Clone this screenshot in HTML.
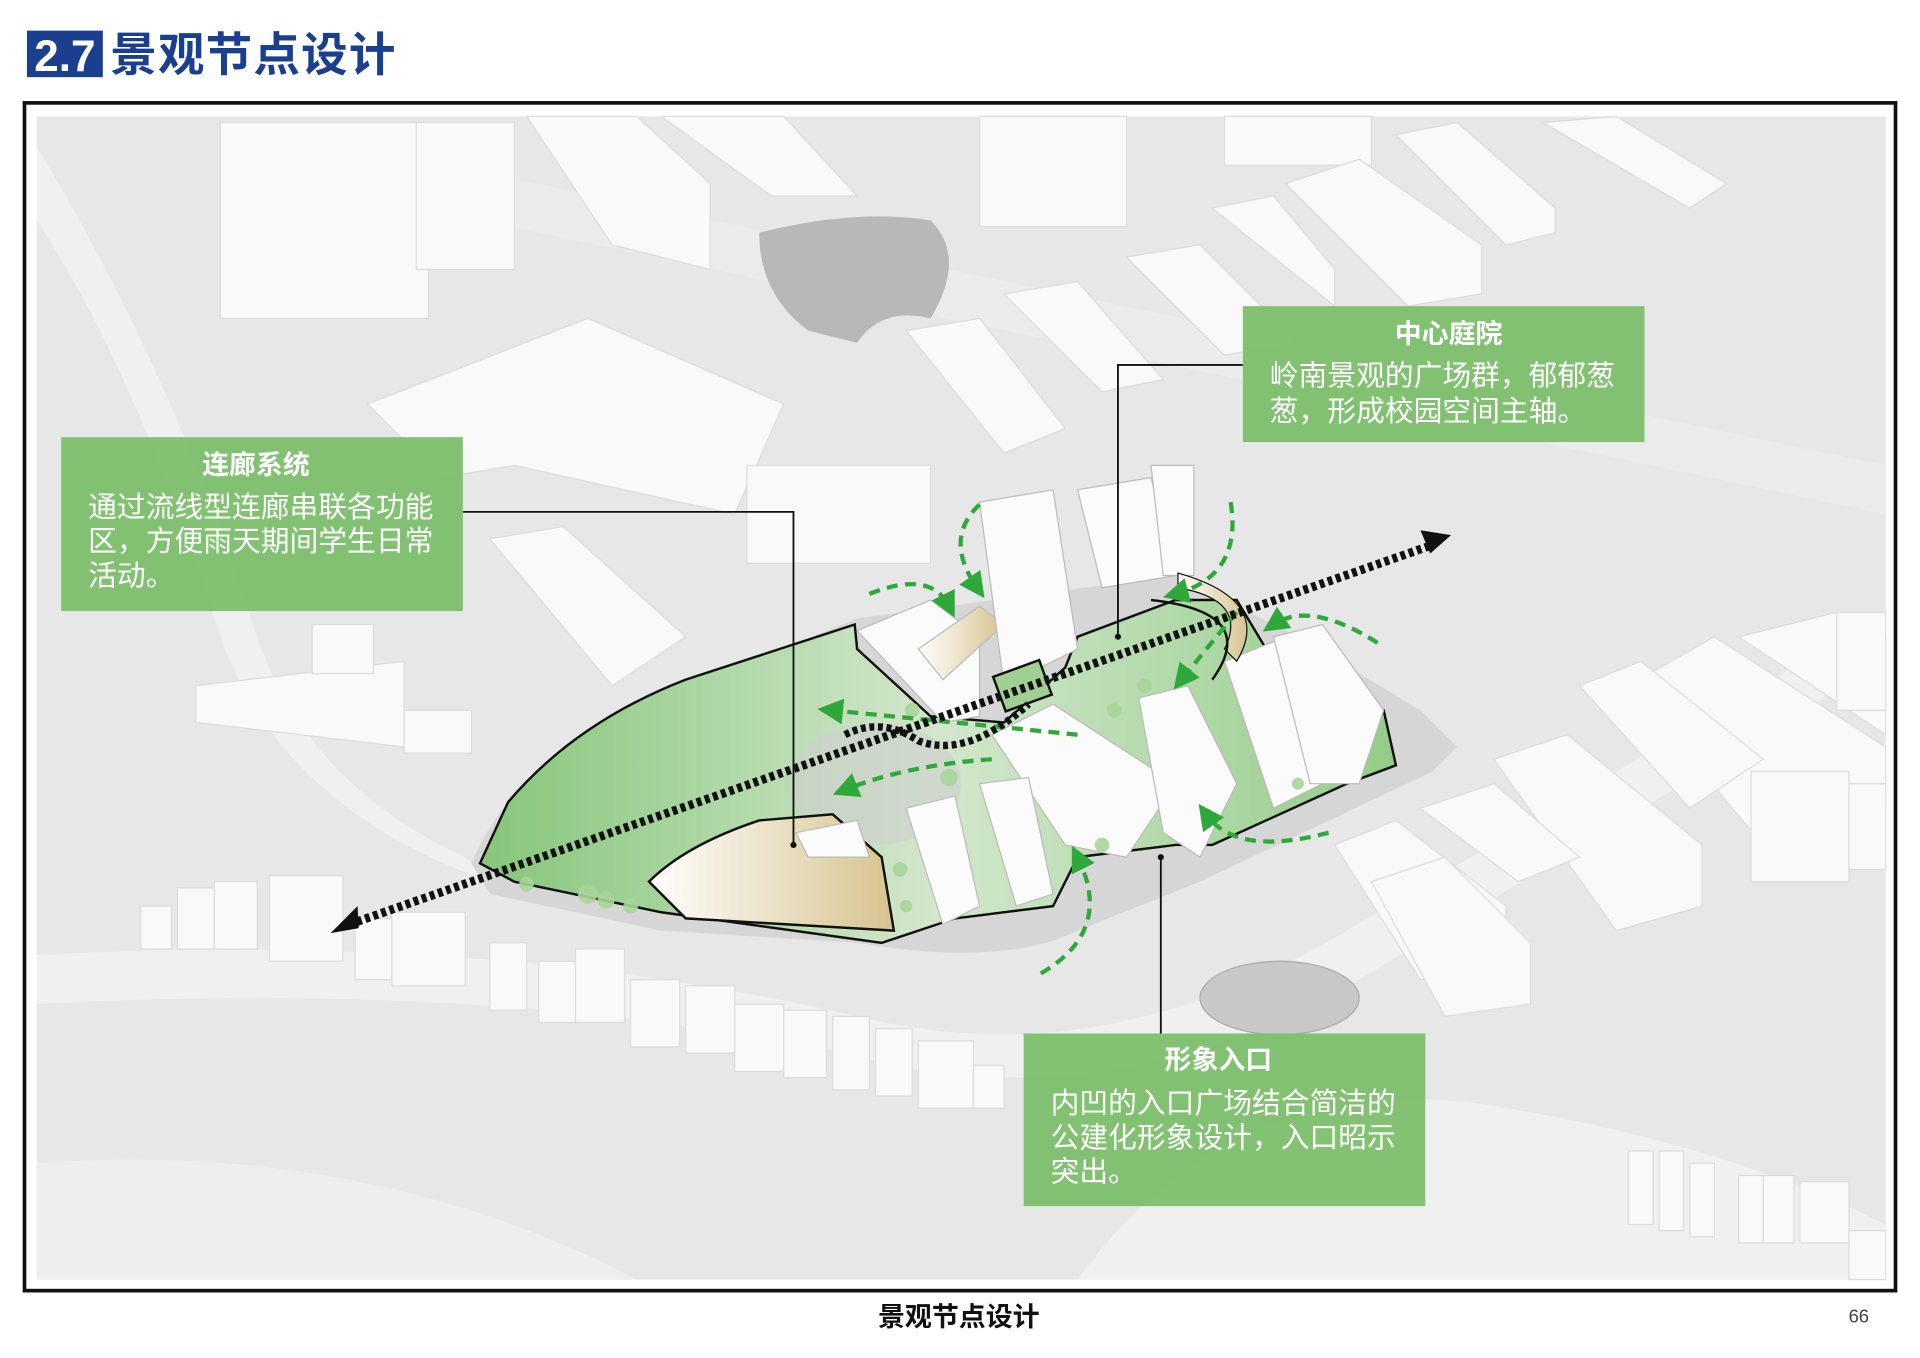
<!DOCTYPE html>
<html><head><meta charset="utf-8"><style>
html,body{margin:0;padding:0;background:#fff;}
svg{display:block;}
text{font-family:"Liberation Sans","Noto Sans CJK SC",sans-serif;}
</style></head><body>
<svg width="1920" height="1358" viewBox="0 0 1568 1109" xmlns="http://www.w3.org/2000/svg">
<defs>
<linearGradient id="gr" x1="0" y1="0" x2="1" y2="0"><stop offset="0" stop-color="#86c67a"/><stop offset="0.5" stop-color="#d3e7cd"/><stop offset="1" stop-color="#93cc88"/></linearGradient>
<linearGradient id="gold" x1="0" y1="0" x2="1" y2="0"><stop offset="0" stop-color="#fff"/><stop offset="1" stop-color="#d6c38f"/></linearGradient>
<marker id="ah" markerWidth="6" markerHeight="6" refX="3" refY="3" orient="auto" markerUnits="strokeWidth"><path d="M0,0 L6,3 L0,6 Z" fill="#2ea83a"/></marker>
</defs>
<rect x="22" y="25" width="62" height="38" fill="#1b3f8f"/>
<text x="53" y="58" font-size="36" font-weight="bold" fill="#fff" text-anchor="middle">2.7</text>
<text x="90" y="58" font-size="38" font-weight="bold" fill="#1b3f8f" letter-spacing="1">景观节点设计</text>
<rect x="20" y="84" width="1528" height="970" fill="#fff" stroke="#111" stroke-width="3"/>
<rect x="30" y="95" width="1510" height="950" fill="#e7e7e7"/>
<path d="M30,780 Q400,760 700,830 Q900,880 1100,760 L1540,500 L1540,540 L1110,800 Q900,920 690,860 Q400,800 30,820 Z" fill="#f0f0f0"/>
<path d="M30,120 Q140,300 210,520 Q250,640 380,700 L400,720 Q230,660 180,520 Q110,300 30,180 Z" fill="#f0f0f0"/>
<path d="M200,100 L1540,380 L1540,420 L200,140 Z" fill="#efefef" opacity="0.6"/>
<path d="M880,1045 Q1000,880 1200,900 Q1400,930 1540,1000 L1540,1045 Z" fill="#f0f0f0"/>
<path d="M30,950 Q300,930 520,1045 L30,1045 Z" fill="#eeeeee"/>
<g fill="#f9f9f9" stroke="#dcdcdc" stroke-width="1">
<rect x="180" y="100" width="170" height="160"/><rect x="340" y="100" width="80" height="120"/>
<polygon points="430,95 520,95 580,150 580,220 500,200"/><polygon points="540,95 640,95 700,160 630,160"/>
<rect x="800" y="95" width="120" height="90"/><rect x="1000" y="95" width="120" height="40"/>
<polygon points="1050,150 1110,130 1210,200 1210,240 1150,250"/><polygon points="990,170 1040,160 1090,220 1090,250"/>
<polygon points="1140,110 1190,100 1270,170 1270,190 1230,200"/><polygon points="1260,100 1320,95 1410,150 1380,170"/>
<polygon points="920,210 980,200 1060,280 1000,290"/><polygon points="820,240 880,230 950,310 900,320"/>
<polygon points="740,270 800,260 870,350 820,370"/><polygon points="300,330 480,260 640,330 600,420 420,380 360,390"/>
<rect x="610" y="380" width="150" height="80"/><polygon points="400,440 460,430 560,520 500,560"/>
<polygon points="160,560 330,540 330,610 160,590"/><rect x="330" y="580" width="55" height="35"/><rect x="255" y="510" width="50" height="40"/>
<polygon points="1330,560 1400,520 1540,610 1540,660 1440,690"/><polygon points="1420,520 1500,500 1540,520 1540,600"/>
<polygon points="1290,560 1340,540 1440,620 1380,660"/><rect x="1500" y="500" width="40" height="80"/>
<polygon points="1220,620 1280,600 1390,690 1390,740 1320,760"/><polygon points="1160,660 1220,640 1290,700 1240,720"/>
<polygon points="1090,690 1140,670 1230,740 1230,790 1160,800"/><polygon points="1120,720 1180,700 1250,770 1250,820 1180,830"/>
<rect x="1430" y="630" width="80" height="90"/><rect x="1510" y="640" width="30" height="70"/>
<rect x="115" y="740" width="25" height="35"/><rect x="145" y="725" width="30" height="50"/><rect x="175" y="720" width="35" height="55"/>
<rect x="220" y="715" width="60" height="70"/><rect x="290" y="750" width="30" height="50"/><rect x="320" y="745" width="60" height="60"/>
<rect x="400" y="770" width="30" height="55"/><rect x="440" y="785" width="30" height="50"/><rect x="470" y="775" width="40" height="60"/>
<rect x="515" y="800" width="40" height="55"/><rect x="560" y="805" width="40" height="55"/><rect x="600" y="820" width="40" height="55"/>
<rect x="640" y="825" width="35" height="55"/><rect x="680" y="830" width="30" height="60"/><rect x="715" y="840" width="30" height="55"/>
<rect x="750" y="850" width="45" height="55"/><rect x="795" y="870" width="25" height="35"/>
<rect x="1330" y="940" width="20" height="60"/><rect x="1355" y="940" width="20" height="65"/><rect x="1380" y="950" width="20" height="60"/>
<rect x="1420" y="960" width="20" height="55"/><rect x="1440" y="960" width="25" height="55"/><rect x="1470" y="965" width="40" height="50"/>
<rect x="1510" y="1005" width="30" height="40"/>
</g>
<path d="M620,190 Q700,170 760,180 Q790,210 760,260 Q720,250 700,280 L660,270 Q620,240 620,190 Z" fill="#b8b8b8"/>
<ellipse cx="1045" cy="815" rx="65" ry="30" fill="#c8c8c8" stroke="#aaa"/>
<path d="M385,705 Q420,620 540,570 L700,505 L960,470 L1060,520 L1160,580 L1190,610 L1170,630 L980,720 L880,760 Q820,790 700,770 L540,760 L400,730 Z" fill="#d6d6d6"/>
<path d="M392,705 L415,655 Q470,590 560,555 L698,510 L700,530 L760,585 L820,590 L870,545 L880,520 L960,490 L1010,490 L1040,540 L1130,580 L1140,625 L1100,640 L990,690 L960,690 L880,700 L860,740 L780,750 L720,770 L540,745 L420,720 Z" fill="url(#gr)" stroke="#111" stroke-width="2"/>
<ellipse cx="715" cy="640" rx="70" ry="50" fill="#cfcfcf" opacity="0.6"/>
<g fill="#fbfbfb" stroke="#bbb" stroke-width="1">
<path d="M530,720 Q560,690 620,670 L680,665 L720,700 L730,760 L560,750 Z" fill="url(#gold)" stroke="#111" stroke-width="2"/>
<polygon points="700,515 760,490 800,520 800,585 770,590"/>
<polygon points="750,530 800,495 820,510 770,555" fill="url(#gold)"/>
<polygon points="800,410 860,400 880,530 820,560"/>
<polygon points="880,400 940,390 960,470 900,480"/>
<polygon points="940,380 975,380 975,470 950,470"/>
<polygon points="810,600 860,575 960,640 920,700 870,690"/>
<polygon points="930,570 970,560 1010,640 980,700 950,680"/>
<polygon points="1000,540 1050,520 1080,640 1040,660"/>
<polygon points="1040,520 1080,510 1130,580 1110,640 1070,640"/>
<polygon points="740,660 780,650 800,740 770,755"/>
<polygon points="800,640 840,635 860,730 830,740"/>
<polygon points="650,680 700,670 710,700 660,700"/>
<path d="M962,468 Q1040,490 1010,540 L1000,530 Q1020,490 962,480 Z" fill="url(#gold)" stroke="#111"/>
</g>
<path d="M940,490 Q1030,500 990,555" fill="none" stroke="#111" stroke-width="2"/>
<rect x="815" y="545" width="40" height="30" fill="#9fcf93" stroke="#111" stroke-width="2" transform="rotate(-20 835 560)"/>
<g fill="#a9d59a" opacity="0.9">
<circle cx="480" cy="730" r="8"/><circle cx="495" cy="735" r="7"/><circle cx="515" cy="740" r="6"/><circle cx="430" cy="722" r="6"/>
<circle cx="745" cy="580" r="6"/><circle cx="775" cy="635" r="7"/><circle cx="910" cy="580" r="6"/><circle cx="935" cy="560" r="6"/>
<circle cx="735" cy="710" r="6"/><circle cx="740" cy="740" r="5"/><circle cx="1060" cy="640" r="5"/><circle cx="900" cy="690" r="6"/>
</g>
<g fill="none" stroke="#2ea83a" stroke-width="3.5" stroke-dasharray="9,6" marker-end="url(#ah)">
<path d="M800,412 Q770,440 798,480"/><path d="M710,485 Q760,465 775,495"/>
<path d="M1005,410 Q1015,470 960,485"/><path d="M1010,500 Q985,530 965,555"/>
<path d="M1125,525 Q1070,490 1040,510"/>
<path d="M880,600 Q780,590 678,580"/><path d="M810,620 Q740,625 690,645"/>
<path d="M1085,680 Q1010,700 985,665"/><path d="M850,795 Q910,760 880,700"/>
</g>
<g stroke="#111" fill="none">
<path d="M285,755 L1170,445" stroke-width="7" stroke-dasharray="4,3"/>
<path d="M690,600 Q720,585 750,605 Q790,620 840,575" stroke-width="6" stroke-dasharray="4,3"/>
</g>
<polygon points="270,762 292,740 293,758" fill="#111"/>
<polygon points="1185,437 1160,433 1168,452" fill="#111"/>
<g stroke="#111" stroke-width="1.5" fill="none">
<polyline points="378,418 648,418 648,690"/>
<polyline points="1015,298 913,298 913,520"/>
<line x1="948" y1="700" x2="948" y2="844"/>
</g>
<circle cx="648" cy="690" r="2.5" fill="#111"/><circle cx="913" cy="520" r="2.5" fill="#111"/><circle cx="948" cy="700" r="2.5" fill="#111"/>
<g fill="#7cbf6c" opacity="0.95">
<rect x="50" y="357" width="328" height="142"/>
<rect x="1015" y="250" width="328" height="111"/>
<rect x="836" y="844" width="328" height="141"/>
</g>
<g fill="#fff" font-size="23.5">
<text x="209" y="387" text-anchor="middle" font-weight="bold" font-size="22">连廊系统</text>
<text x="72" y="422">通过流线型连廊串联各功能</text>
<text x="72" y="450">区，方便雨天期间学生日常</text>
<text x="72" y="478">活动。</text>
<text x="1183" y="280" text-anchor="middle" font-weight="bold" font-size="22">中心庭院</text>
<text x="1037" y="315">岭南景观的广场群，郁郁葱</text>
<text x="1037" y="344">葱，形成校园空间主轴。</text>
<text x="995" y="873" text-anchor="middle" font-weight="bold" font-size="22">形象入口</text>
<text x="858" y="909">内凹的入口广场结合简洁的</text>
<text x="858" y="937">公建化形象设计，入口昭示</text>
<text x="858" y="965">突出。</text>
</g>
<text x="783" y="1083" font-size="22" font-weight="bold" fill="#111" text-anchor="middle">景观节点设计</text>
<text x="1518" y="1080" font-size="15" fill="#444" text-anchor="middle">66</text>
</svg>
</body></html>
